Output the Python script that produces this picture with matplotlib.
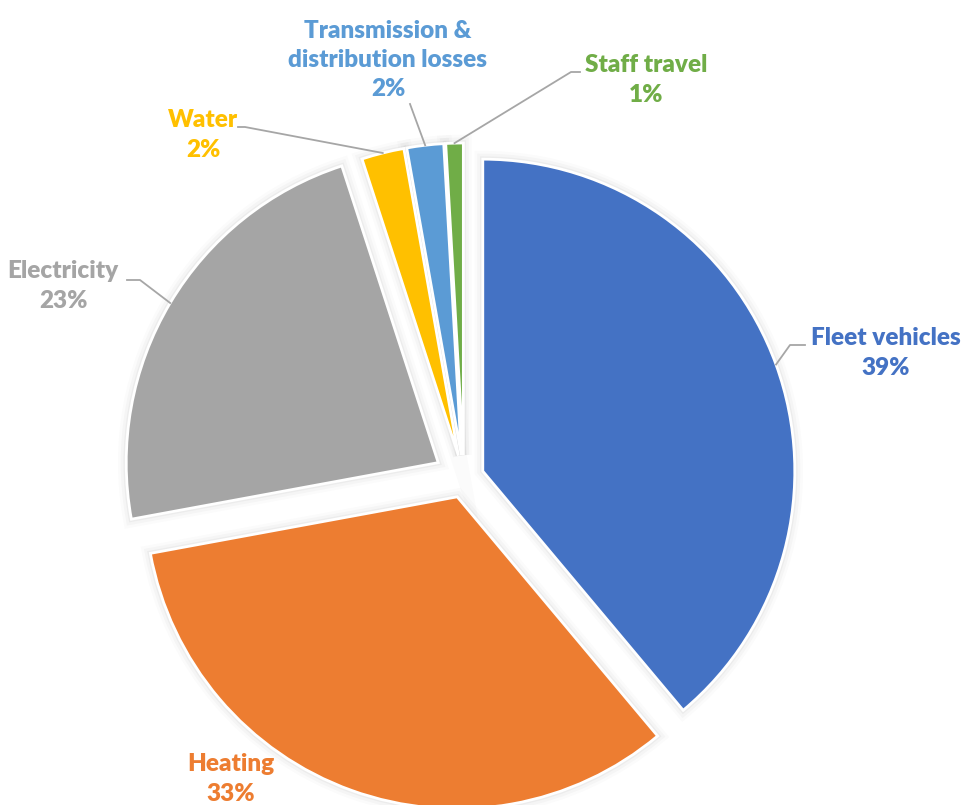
#pie chart of carbon footprint by source, exploded slices with leader lines
import numpy as np
import matplotlib.pyplot as plt
from matplotlib.patches import Wedge

categories = ['Fleet vehicles', 'Heating', 'Electricity', 'Water',
              'Transmission &\ndistribution losses', 'Staff travel']
shares = [38.9, 33.2, 22.9, 2.2, 1.9, 0.9]
pct_labels = ['39%', '33%', '23%', '2%', '2%', '1%']
colors = ['#4472C4', '#ED7D31', '#A5A5A5', '#FFC000', '#5B9BD5', '#70AD47']
# pie explode is in data units here (pixels)
explode = [20, 20, 30, 23, 23, 23]

W, H = 963, 805
center = (464, H - 478)
radius = 312

# label text centres and leader elbows (pixel layout, y from top)
label_pos = [(886, 353), (231, 779), (63, 286), (203, 135), (388, 60), (646, 80)]
elbows = [(790, 345), None, (140, 280), (245, 127), (410, 104), (571, 72)]
elbow_ends = [(805, 345), None, (127, 280), (238, 127), None, (580, 72)]

plt.rcParams['font.family'] = ['Lato', 'DejaVu Sans']

fig = plt.figure(figsize=(W / 100, H / 100), dpi=100)
ax = fig.add_axes([0, 0, 1, 1])

wedges, _ = ax.pie(shares, colors=colors, explode=explode, startangle=90,
                   counterclock=False, center=center, radius=radius,
                   wedgeprops=dict(edgecolor='white', linewidth=2),
                   frame=True)
ax.set_xlim(0, W)
ax.set_ylim(0, H)
ax.axis('off')

# soft shadow around each slice
for w in wedges:
    for lw, a in [(12, 0.015), (8, 0.025), (4, 0.035)]:
        sh = Wedge(w.center, w.r, w.theta1, w.theta2, facecolor='none',
                   edgecolor='black', linewidth=lw, alpha=a, zorder=0.5)
        ax.add_patch(sh)

for i, w in enumerate(wedges):
    mid = np.deg2rad((w.theta1 + w.theta2) / 2)
    ex = w.center[0] + w.r * np.cos(mid)
    ey = w.center[1] + w.r * np.sin(mid)
    lx, ly = label_pos[i]
    ax.text(lx, H - ly, categories[i] + '\n' + pct_labels[i], color=colors[i],
            fontsize=17.5, fontweight='heavy', ha='center', va='center',
            linespacing=1.4)
    if elbows[i] is not None:
        bx, by = elbows[i]
        xs = [ex, bx]
        ys = [ey, H - by]
        if elbow_ends[i] is not None:
            xs.append(elbow_ends[i][0])
            ys.append(H - elbow_ends[i][1])
        ax.plot(xs, ys, color='#A6A6A6', linewidth=1.3)

plt.savefig('out.png', dpi=100)
